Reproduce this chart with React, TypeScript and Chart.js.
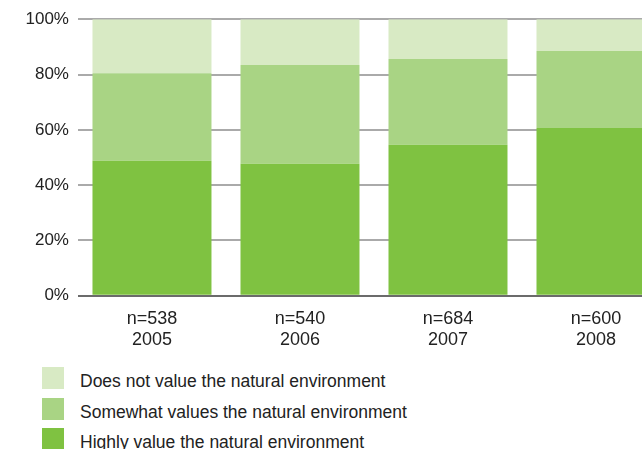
import React, { useEffect, useRef } from "react";
import { Chart, registerables } from "chart.js";

Chart.register(...registerables);

const sampleSizes = ["n=538", "n=540", "n=684", "n=600"];
const years = ["2005", "2006", "2007", "2008"];
const highlyValues = [48.8, 47.7, 54.6, 60.7];
const somewhatValues = [31.7, 35.7, 31.0, 27.8];
const doesNotValues = [19.5, 16.6, 14.4, 11.5];
const yTicks = [0, 20, 40, 60, 80, 100];

const seriesNames = [
  "Highly value the natural environment",
  "Somewhat values the natural environment",
  "Does not value the natural environment",
];
const seriesColors = ["#7fc241", "#a9d484", "#d8eac4"];
const seriesData = [highlyValues, somewhatValues, doesNotValues];

const FONT = "'Liberation Sans', Arial, sans-serif";

export default function App() {
  const canvasRef = useRef<HTMLCanvasElement | null>(null);

  useEffect(() => {
    if (!canvasRef.current) return;
    const labels = sampleSizes.map((s, i) => [s, years[i]]);
    const chart = new Chart(canvasRef.current, {
      type: "bar",
      data: {
        labels,
        datasets: seriesNames.map((name, i) => ({
          label: name,
          data: seriesData[i],
          backgroundColor: seriesColors[i],
          borderWidth: 0,
          categoryPercentage: 1,
          barPercentage: 0.804,
        })),
      },
      options: {
        animation: false,
        responsive: false,
        maintainAspectRatio: false,
        layout: { padding: { left: 16.5, right: 0, top: 7, bottom: 2 } },
        plugins: {
          legend: { display: false },
          tooltip: { enabled: false },
        },
        scales: {
          x: {
            stacked: true,
            grid: { display: false, drawTicks: false },
            border: { display: false },
            ticks: {
              color: "#222",
              padding: 12,
              font: { family: FONT, size: 18, lineHeight: 1.2 },
            },
          },
          y: {
            stacked: true,
            min: 0,
            max: 100,
            afterBuildTicks: (axis: any) => {
              axis.ticks = yTicks.map((v) => ({ value: v }));
            },
            grid: {
              drawTicks: false,
              lineWidth: 2,
              color: (ctx: any) => (ctx.tick && ctx.tick.value === 0 ? "#6b6b6b" : "#aaaaaa"),
            },
            border: { display: false },
            ticks: {
              color: "#222",
              padding: 9,
              font: { family: FONT, size: 17, lineHeight: 1.2 },
              callback: (v: any) => v + "%",
            },
          },
        },
      },
    });
    return () => chart.destroy();
  }, []);

  const legendOrder = [2, 1, 0];
  const legendTops = [367, 398, 428];

  return (
    <div
      style={{
        position: "fixed",
        left: 0,
        top: 0,
        width: 642,
        height: 449,
        overflow: "hidden",
        background: "#fff",
      }}
    >
      <canvas
        ref={canvasRef}
        width={670}
        height={365}
        style={{ position: "absolute", left: 0, top: 0, width: 670, height: 365 }}
      />
      {legendOrder.map((idx, row) => (
        <div
          key={idx}
          style={{
            position: "absolute",
            left: 42,
            top: legendTops[row],
            height: 22,
            display: "flex",
            alignItems: "center",
            fontFamily: FONT,
            fontSize: 17.5,
            color: "#222",
            whiteSpace: "nowrap",
          }}
        >
          <span
            style={{
              display: "inline-block",
              width: 22,
              height: 22,
              background: seriesColors[idx],
              marginRight: 16,
            }}
          />
          <span style={{ position: "relative", top: 3 }}>{seriesNames[idx]}</span>
        </div>
      ))}
    </div>
  );
}
